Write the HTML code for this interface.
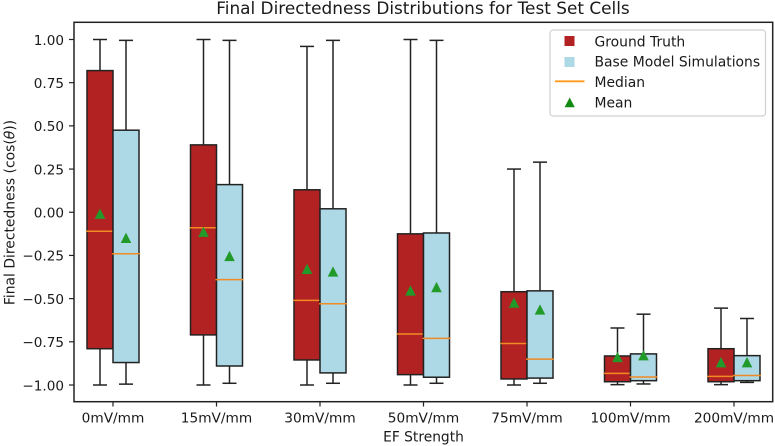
<!DOCTYPE html>
<html>
<head>
<meta charset="utf-8">
<style>
html,body{margin:0;padding:0;background:#fff;}
body{width:775px;height:446px;overflow:hidden;}
svg{display:block;filter:blur(0.35px);}
text{font-family:"DejaVu Sans","Liberation Sans",sans-serif;fill:#1a1a1a;}
</style>
</head>
<body>
<svg id="chart" xmlns="http://www.w3.org/2000/svg" width="775" height="446" viewBox="0 0 775 446">
<rect x="0" y="0" width="775" height="446" fill="#fff"/>
<text x="423" y="14" text-anchor="middle" font-size="16.9">Final Directedness Distributions for Test Set Cells</text>
<g id="marks"></g>
<rect x="74" y="22.3" width="698.7" height="379.4" fill="none" stroke="#222" stroke-width="1.5"/>
<g id="axes"></g>
<text transform="translate(14.5,212.5) rotate(-90)" text-anchor="middle" font-size="13.9">Final Directedness (cos(<tspan font-style="italic">θ</tspan>))</text>
<text x="423.5" y="441.5" text-anchor="middle" font-size="13.8">EF Strength</text>
<g>
<rect x="550" y="30" width="215.500" height="86" rx="3" fill="#fff" stroke="#d0d0d0" stroke-width="1.2"/>
<g>
<rect x="564.500" y="36" width="10" height="10" fill="#b22222"/>
<text x="594.500" y="46.300" font-size="13.9">Ground Truth</text>
</g>
<g>
<rect x="564.500" y="57" width="10" height="10" fill="#add8e6"/>
<text x="594.500" y="66.700" font-size="13.9">Base Model Simulations</text>
</g>
<g>
<line x1="555" x2="584.500" y1="81.300" y2="81.300" stroke="#ff9a1f" stroke-width="1.800"/>
<text x="594.500" y="87" font-size="13.9">Median</text>
</g>
<g>
<polygon points="569.700,97.500 574.800,107.200 564.600,107.200" fill="#128a12"/>
<text x="594.500" y="107.500" font-size="13.9">Mean</text>
</g>
</g>
</svg>
<script>
const categories = ["0mV/mm","15mV/mm","30mV/mm","50mV/mm","75mV/mm","100mV/mm","200mV/mm"];
const yTicks = [1,0.75,0.5,0.25,0,-0.25,-0.5,-0.75,-1];
const yTickLabels = ["1.00","0.75","0.50","0.25","0.00","\u22120.25","\u22120.50","\u22120.75","\u22121.00"];

const truthLow = [-1,-1,-1,-1,-1,-0.998,-0.998];
const truthQ1 = [-0.79,-0.71,-0.855,-0.94,-0.965,-0.981,-0.981];
const truthMedian = [-0.11,-0.09,-0.51,-0.705,-0.76,-0.933,-0.95];
const truthQ3 = [0.82,0.39,0.13,-0.125,-0.46,-0.832,-0.79];
const truthHigh = [1,1,0.96,1,0.25,-0.67,-0.555];
const truthMean = [-0.01,-0.115,-0.33,-0.455,-0.525,-0.84,-0.87];

const baseLow = [-0.995,-0.99,-0.99,-0.99,-0.99,-0.994,-0.985];
const baseQ1 = [-0.87,-0.89,-0.93,-0.955,-0.96,-0.975,-0.975];
const baseMedian = [-0.24,-0.39,-0.53,-0.73,-0.85,-0.954,-0.945];
const baseQ3 = [0.475,0.16,0.02,-0.12,-0.455,-0.82,-0.83];
const baseHigh = [0.995,0.995,0.995,0.995,0.29,-0.59,-0.615];
const baseMean = [-0.15,-0.255,-0.345,-0.435,-0.565,-0.83,-0.87];

const NS = "http://www.w3.org/2000/svg";
const marks = document.getElementById("marks");
const axes = document.getElementById("axes");
function xScale(i){ return 113 + i * 103.5; }
function yScale(v){ return 212.25 - 172.75 * v; }
function mk(parent, tag, attrs){
  const el = document.createElementNS(NS, tag);
  for (const k in attrs) el.setAttribute(k, attrs[k]);
  parent.appendChild(el);
  return el;
}
function drawBox(i, cx, left, width, fill, low, q1, med, q3, high, mean, key){
  const g = mk(marks, "g", {});
  
  
  const st = {stroke:"#222", "stroke-width":1.5, fill:"none"};
  mk(g, "line", Object.assign({x1:cx, x2:cx, y1:yScale(q3), y2:yScale(high)}, st));
  mk(g, "line", Object.assign({x1:cx, x2:cx, y1:yScale(q1), y2:yScale(low)}, st));
  mk(g, "line", Object.assign({x1:cx-7, x2:cx+7, y1:yScale(high), y2:yScale(high)}, st));
  mk(g, "line", Object.assign({x1:cx-7, x2:cx+7, y1:yScale(low), y2:yScale(low)}, st));
  mk(g, "rect", {x:left, y:yScale(q3), width:width, height:yScale(q1)-yScale(q3), fill:fill, stroke:"#222", "stroke-width":1.5});
  mk(g, "line", {x1:left-1, x2:left+width+1, y1:yScale(med), y2:yScale(med), stroke:"#f08a24", "stroke-width":1.5});
  const my = yScale(mean);
  mk(g, "polygon", {points:(cx)+","+(my-5.5)+" "+(cx+5.3)+","+(my+4.8)+" "+(cx-5.3)+","+(my+4.8), fill:"#229a2a"});
}
categories.forEach(function(c, i){
  const x = xScale(i);
  drawBox(i, x-13, x-26, 26, "#b22222", truthLow[i], truthQ1[i], truthMedian[i], truthQ3[i], truthHigh[i], truthMean[i], "ground-truth");
  drawBox(i, x+13, x, 26, "#add8e6", baseLow[i], baseQ1[i], baseMedian[i], baseQ3[i], baseHigh[i], baseMean[i], "base-model");
  const t = mk(axes, "line", {x1:x, x2:x, y1:401.7, y2:406.5, stroke:"#222", "stroke-width":1.2});
  
  
  const l = mk(axes, "text", {x:x, y:422.3, "text-anchor":"middle", "font-size":13.7});
  l.textContent = c;
  
  
});
yTicks.forEach(function(v, i){
  const y = yScale(v);
  const t = mk(axes, "line", {x1:69, x2:74, y1:y, y2:y, stroke:"#222", "stroke-width":1.2});
  
  
  const l = mk(axes, "text", {x:64, y:y+5.3, "text-anchor":"end", "font-size":13.6});
  l.textContent = yTickLabels[i];
  
  
});
</script>
</body>
</html>
